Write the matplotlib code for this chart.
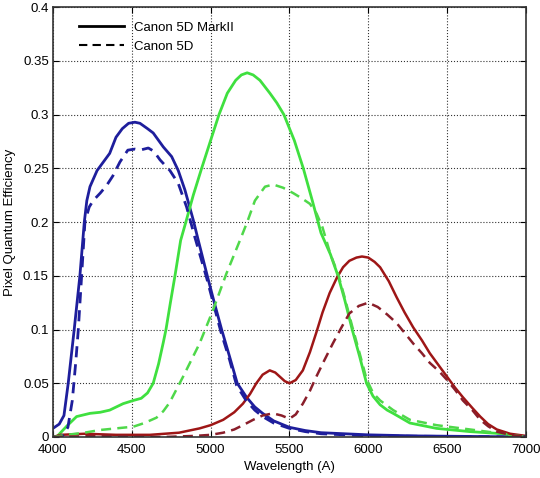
import numpy as np
import matplotlib.pyplot as plt

plt.rcParams['font.family'] = ['Liberation Sans', 'DejaVu Sans']

# Canon 5D MarkII (solid)
blue2_x = [4000, 4040, 4070, 4097, 4135, 4171, 4199, 4215, 4235, 4280, 4320, 4360, 4400,
           4440, 4480, 4520, 4552, 4600, 4636, 4700, 4753, 4795, 4837, 4890, 4922, 4979,
           5020, 5070, 5120, 5169, 5228, 5280, 5330, 5400, 5500, 5600, 5700, 5850, 6000,
           6300, 7000]
blue2_y = [0.008, 0.012, 0.020, 0.050, 0.100, 0.150, 0.200, 0.220, 0.233, 0.248, 0.256, 0.264, 0.279,
           0.287, 0.292, 0.293, 0.292, 0.287, 0.283, 0.270, 0.261, 0.248, 0.230, 0.202, 0.183, 0.150,
           0.127, 0.100, 0.075, 0.050, 0.037, 0.028, 0.022, 0.015, 0.009, 0.006, 0.004, 0.003, 0.002,
           0.001, 0.0]
green2_x = [4000, 4023, 4087, 4150, 4235, 4300, 4360, 4445, 4510, 4560, 4600, 4636, 4670, 4700,
            4717, 4745, 4774, 4810, 4843, 4890, 4943, 5000, 5053, 5106, 5159, 5195, 5232, 5270,
            5313, 5376, 5420, 5465, 5531, 5588, 5645, 5700, 5760, 5808, 5850, 5898, 5945, 5989,
            6030, 6075, 6120, 6158, 6264, 6433, 6645, 6856, 7000]
green2_y = [0.0, 0.0, 0.010, 0.019, 0.022, 0.023, 0.025, 0.031, 0.034, 0.036, 0.041, 0.050, 0.068, 0.088,
            0.100, 0.125, 0.150, 0.183, 0.200, 0.225, 0.250, 0.276, 0.300, 0.320, 0.332, 0.337, 0.339, 0.337,
            0.332, 0.320, 0.311, 0.300, 0.276, 0.250, 0.220, 0.190, 0.170, 0.150, 0.128, 0.100, 0.075, 0.050,
            0.038, 0.030, 0.025, 0.022, 0.013, 0.008, 0.005, 0.003, 0.0]
red2_x = [4000, 4050, 4200, 4400, 4615, 4800, 4930, 5000, 5080, 5150, 5205, 5250, 5290, 5330,
          5375, 5410, 5440, 5470, 5500, 5540, 5585, 5630, 5670, 5710, 5755, 5800, 5840, 5880,
          5925, 5960, 6000, 6040, 6075, 6130, 6180, 6230, 6285, 6340, 6390, 6450, 6500, 6550,
          6600, 6660, 6710, 6760, 6815, 6900, 7000]
red2_y = [0.0, 0.002, 0.003, 0.002, 0.002, 0.004, 0.008, 0.011, 0.016, 0.023, 0.031, 0.040, 0.050, 0.058,
          0.062, 0.060, 0.056, 0.052, 0.050, 0.053, 0.062, 0.079, 0.097, 0.116, 0.134, 0.148, 0.158, 0.164,
          0.167, 0.168, 0.167, 0.163, 0.158, 0.145, 0.130, 0.116, 0.102, 0.090, 0.078, 0.066, 0.056, 0.046,
          0.037, 0.027, 0.019, 0.012, 0.007, 0.003, 0.001]

# Canon 5D (dashed)
blue1_x = [4000, 4060, 4095, 4123, 4145, 4161, 4182, 4203, 4230, 4255, 4300, 4340, 4380,
           4425, 4475, 4520, 4552, 4605, 4640, 4679, 4742, 4795, 4848, 4900, 4975, 5065,
           5120, 5165, 5225, 5280, 5330, 5400, 5500, 5600, 5700, 6000, 7000]
blue1_y = [0.0, 0.001, 0.009, 0.034, 0.070, 0.100, 0.150, 0.200, 0.214, 0.220, 0.227, 0.234, 0.243,
           0.256, 0.267, 0.268, 0.267, 0.269, 0.266, 0.258, 0.248, 0.236, 0.214, 0.186, 0.148, 0.098,
           0.072, 0.048, 0.034, 0.025, 0.019, 0.013, 0.008, 0.005, 0.003, 0.001, 0.0]
green1_x = [4000, 4087, 4200, 4298, 4400, 4510, 4580, 4657, 4700, 4740, 4825, 4930, 5015, 5100,
            5186, 5232, 5281, 5345, 5397, 5460, 5524, 5580, 5630, 5672, 5710, 5760, 5808, 5850,
            5898, 5945, 5989, 6030, 6075, 6158, 6264, 6433, 6645, 6856, 7000]
green1_y = [0.0, 0.002, 0.004, 0.0065, 0.008, 0.0096, 0.013, 0.018, 0.024, 0.032, 0.056, 0.087, 0.118, 0.152,
            0.183, 0.200, 0.220, 0.233, 0.235, 0.232, 0.227, 0.222, 0.217, 0.208, 0.195, 0.170, 0.152, 0.130,
            0.103, 0.078, 0.054, 0.041, 0.034, 0.025, 0.016, 0.011, 0.007, 0.003, 0.0]
red1_x = [4000, 4300, 4700, 4900, 5000, 5080, 5150, 5205, 5270, 5330, 5395, 5450, 5500, 5540,
          5585, 5630, 5670, 5720, 5775, 5830, 5880, 5940, 6000, 6060, 6120, 6180, 6230, 6285,
          6340, 6390, 6450, 6500, 6550, 6600, 6660, 6710, 6760, 6815, 6900, 7000]
red1_y = [0.0, 0.001, 0.0, 0.001, 0.002, 0.004, 0.007, 0.011, 0.016, 0.020, 0.022, 0.020, 0.017, 0.021,
          0.031, 0.043, 0.056, 0.071, 0.087, 0.102, 0.115, 0.122, 0.125, 0.121, 0.114, 0.106, 0.097, 0.087,
          0.078, 0.069, 0.061, 0.053, 0.044, 0.034, 0.025, 0.016, 0.010, 0.005, 0.002, 0.0]

c_blue = "#1e1e9c"
c_green = "#3fe03f"
c_red = "#9e1616"
c_green_d = "#4fd84a"
c_red_d = "#8a1e2a"

fig = plt.figure(figsize=(5.4, 4.78), dpi=100)
ax = fig.add_axes([0.098, 0.0858, 0.876, 0.899])

ax.plot(blue2_x, blue2_y, "-", color=c_blue, lw=2)
ax.plot(green2_x, green2_y, "-", color=c_green, lw=2)
ax.plot(red2_x, red2_y, "-", color=c_red, lw=1.8)
ax.plot(blue1_x, blue1_y, "--", color=c_blue, lw=2, dashes=(4, 2.5))
ax.plot(green1_x, green1_y, "--", color=c_green_d, lw=1.8, dashes=(4, 2.5))
ax.plot(red1_x, red1_y, "--", color=c_red_d, lw=1.8, dashes=(4, 2.5))

# Legend with black lines
h1, = ax.plot([], [], "-", color="black", lw=2)
h2, = ax.plot([], [], "--", color="black", lw=1.5, dashes=(4, 2.5))
ax.legend([h1, h2], ["Canon 5D MarkII", "Canon 5D"], loc="upper left",
          bbox_to_anchor=(0.03, 0.995), frameon=False, fontsize=9.5,
          handlelength=3.4, handletextpad=0.8, labelspacing=0.55)

ax.set_xlim(4000, 7000)
ax.set_ylim(0, 0.4)
ax.set_xticks(np.arange(4000, 7001, 500))
ax.set_yticks(np.arange(0, 0.401, 0.05))
ax.set_yticklabels(["0", "0.05", "0.1", "0.15", "0.2", "0.25", "0.3", "0.35", "0.4"])
ax.tick_params(direction="in", top=True, right=True, length=4, labelsize=9.5)
ax.tick_params(axis="x", pad=5)
ax.tick_params(axis="y", pad=3)
ax.grid(True, linestyle=":", color="black", lw=0.8, alpha=0.8)
for s in ax.spines.values():
    s.set_linewidth(1.2)
    s.set_color("#333333")

ax.set_xlabel("Wavelength (A)", fontsize=9.5, labelpad=4)
ax.set_ylabel("Pixel Quantum Efficiency", fontsize=9.5, labelpad=5)

fig.savefig("out.png", dpi=100)
